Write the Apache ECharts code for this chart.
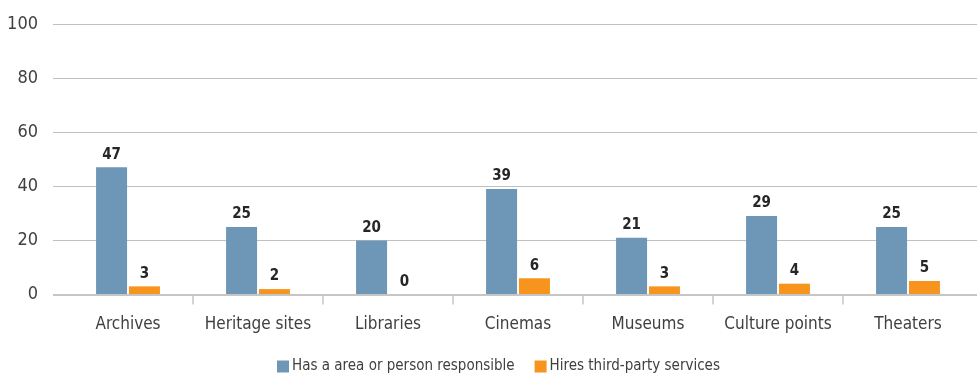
<!DOCTYPE html>
<html>
<head>
<meta charset="utf-8">
<script src="https://cdn.jsdelivr.net/npm/echarts@6/dist/echarts.min.js"></script>
<style>
  html, body { margin: 0; padding: 0; background: #ffffff; }
  #chart { width: 977px; height: 374px; }
</style>
</head>
<body>
<div id="chart"></div>
<script>
// Categories and values
const categories = ['Archives', 'Heritage sites', 'Libraries', 'Cinemas', 'Museums', 'Culture points', 'Theaters'];
const responsible = [47, 25, 20, 39, 21, 29, 25];
const thirdParty = [3, 2, 0, 6, 3, 4, 5];
const seriesNames = ['Has a area or person responsible', 'Hires third-party services'];
const yTicks = { min: 0, max: 100, interval: 20 };

const FONT = '"Liberation Sans Narrow", "DejaVu Sans Condensed", "Roboto", sans-serif';

const chart = echarts.init(document.getElementById('chart'), null, { renderer: 'canvas' });

const valueLabel = {
  show: true,
  position: 'top',
  distance: 5,
  color: '#262626',
  fontFamily: FONT,
  fontWeight: 'bold',
  fontSize: 15
};

chart.setOption({
  animation: false,
  backgroundColor: '#ffffff',
  textStyle: { fontFamily: FONT },
  legend: {
    bottom: -5,
    left: 272,
    itemWidth: 12,
    itemHeight: 12,
    itemGap: 20,
    icon: 'rect',
    textStyle: { fontFamily: FONT, fontSize: 15, color: '#404040', padding: [0, 0, 0, -2] },
    data: seriesNames
  },
  grid: [
    // gridline layer spanning the full plot width
    { left: 53, right: 0, top: 24, bottom: 79.5 },
    // bar layer
    { left: 63, right: 4, top: 24, bottom: 79.5 }
  ],
  xAxis: [
    { type: 'category', gridIndex: 0, data: categories, show: false },
    {
      type: 'category',
      gridIndex: 1,
      data: categories,
      axisLine: { show: false },
      axisTick: {
        show: true,
        length: 10,
        lineStyle: { color: '#c6c6c6', width: 1.5 },
        // only the inner category boundaries carry a tick
        interval: function (index) { return index > 0; }
      },
      axisLabel: { color: '#404040', fontSize: 17, margin: 22, fontFamily: FONT, interval: 0 }
    }
  ],
  yAxis: [
    {
      type: 'value',
      gridIndex: 0,
      min: yTicks.min, max: yTicks.max, interval: yTicks.interval,
      axisLine: { show: false },
      axisTick: { show: false },
      axisLabel: { color: '#404040', fontSize: 18, margin: 15, fontFamily: FONT },
      splitLine: { lineStyle: { color: '#c0c0c0', width: 1 } }
    },
    {
      type: 'value',
      gridIndex: 1,
      min: yTicks.min, max: yTicks.max, interval: yTicks.interval,
      show: false,
      splitLine: { show: false }
    }
  ],
  // mask the outer end tick of the category axis
  graphic: [{
    type: 'rect',
    right: 0,
    top: 296,
    shape: { width: 7, height: 14 },
    style: { fill: '#ffffff' },
    z: 100,
    silent: true
  }],
  series: [
    {
      name: seriesNames[0],
      type: 'bar',
      xAxisIndex: 1, yAxisIndex: 1,
      data: responsible,
      barWidth: 31,
      barGap: '6%',
      itemStyle: { color: '#6e97b7' },
      label: valueLabel,
      z: 3
    },
    {
      name: seriesNames[1],
      type: 'bar',
      xAxisIndex: 1, yAxisIndex: 1,
      data: thirdParty,
      barWidth: 31,
      barGap: '6%',
      itemStyle: { color: '#f7941d' },
      label: valueLabel,
      z: 3
    },
    {
      // baseline drawn over the gridline layer
      type: 'line',
      xAxisIndex: 0, yAxisIndex: 0,
      data: [],
      markLine: {
        silent: true,
        symbol: 'none',
        label: { show: false },
        lineStyle: { color: '#c6c6c6', width: 2, type: 'solid' },
        data: [{ yAxis: 0 }]
      }
    }
  ]
});
</script>
</body>
</html>
